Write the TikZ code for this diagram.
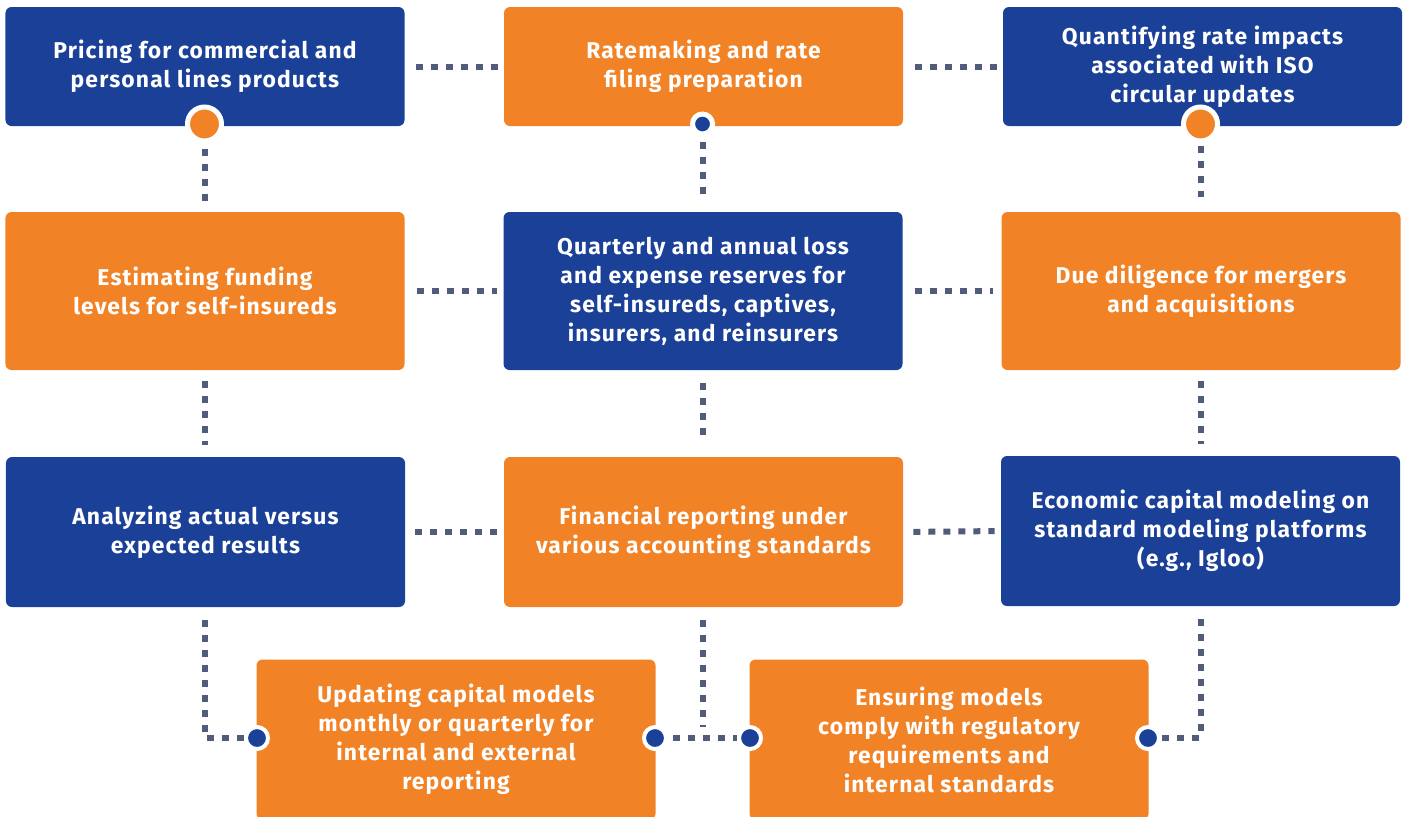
\documentclass[tikz,border=0pt]{standalone}
\usepackage{fontspec}
\setmainfont{Fira Sans}[LetterSpace=5]
\definecolor{bleu}{RGB}{27,64,151}
\definecolor{orangec}{RGB}{242,130,38}
\definecolor{ardoise}{RGB}{80,92,122}

\begin{document}
\begin{tikzpicture}[x=0.2mm,y=-0.2mm]

% définition des styles
\tikzstyle{boite}=[rounded corners=1.2mm,minimum width=79.8mm,text=white,align=center,inner sep=0,font=\bfseries\fontsize{13}{16.5}\selectfont]
\tikzstyle{boitebleue}=[boite,fill=bleu]
\tikzstyle{boiteorange}=[boite,fill=orangec]
\tikzstyle{lien}=[draw=ardoise,line width=1.2mm,dash pattern=on 1.4mm off 1.6mm]
\tikzstyle{grospoint}=[circle,fill=orangec,draw=white,line width=1mm,minimum size=6.8mm,inner sep=0]
\tikzstyle{petitpoint}=[circle,fill=bleu,draw=white,line width=1mm,minimum size=4mm,inner sep=0]
\tikzstyle{pointbas}=[circle,fill=bleu,draw=white,line width=0.8mm,minimum size=4.4mm,inner sep=0]

\useasboundingbox (0,0) rectangle (1405,816);

% les boîtes
\node[boitebleue,minimum height=23.8mm] (prix) at (205,66.5) {Pricing for commercial and\\personal lines products};
\node[boiteorange,minimum height=23.8mm] (tarif) at (703.5,66.5) {Ratemaking and rate\\filing preparation};
\node[boitebleue,minimum height=23.8mm] (iso) at (1202.5,66.5) {Quantifying rate impacts\\associated with ISO\\circular updates};

\node[boiteorange,minimum height=31.6mm] (fonds) at (205,291) {Estimating funding\\levels for self-insureds};
\node[boitebleue,minimum height=31.6mm] (reserves) at (703,291) {Quarterly and annual loss\\and expense reserves for\\self-insureds, captives,\\insurers, and reinsurers};
\node[boiteorange,minimum height=31.6mm] (fusion) at (1201,291) {Due diligence for mergers\\and acquisitions};

\node[boitebleue,minimum height=30mm] (analyse) at (205.5,532) {Analyzing actual versus\\expected results};
\node[boiteorange,minimum height=30mm] (rapport) at (703.5,532) {Financial reporting under\\various accounting standards};
\node[boitebleue,minimum height=30mm] (eco) at (1200.5,531) {Economic capital modeling on\\standard modeling platforms\\(e.g., Igloo)};

\node[boiteorange,minimum height=32mm] (maj) at (456,739.5) {Updating capital models\\monthly or quarterly for\\internal and external\\reporting};
\node[boiteorange,minimum height=32mm] (conf) at (949,739.5) {Ensuring models\\comply with regulatory\\requirements and\\internal standards};

% les points
\node[grospoint] (dprix) at (204.5,124) {};
\node[petitpoint] (dtarif) at (702.5,124) {};
\node[grospoint] (diso) at (1200.5,124) {};
\node[pointbas] (dmajg) at (257,738) {};
\node[pointbas] (dmajd) at (655,738) {};
\node[pointbas] (dconfg) at (750,738) {};
\node[pointbas] (dconfd) at (1148,738) {};
\coordinate (milieu) at (703,738);

% les liens
\draw[lien,shorten <=2.2mm,shorten >=1mm] (prix.east) -- (tarif.west);
\draw[lien,shorten <=2.4mm,shorten >=1mm] (tarif.east) -- (iso.west);
\draw[lien,shorten <=2.4mm,shorten >=1.2mm] (fonds.east) -- (reserves.west);
\draw[lien,shorten <=2.4mm,shorten >=1.6mm] (reserves.east) -- (fusion.west);
\draw[lien,shorten <=2mm,shorten >=1.4mm] (analyse.east) -- (rapport.west);
\draw[lien,shorten <=2mm,shorten >=1.2mm] (rapport.east) -- (eco.west);

\draw[lien,shorten <=1mm,shorten >=2.2mm] (dprix) -- (fonds.north -| dprix);
\draw[lien,shorten <=1mm,shorten >=2.8mm] (dtarif) -- (reserves.north -| dtarif);
\draw[lien,shorten <=0.4mm,shorten >=3mm] (diso) -- (fusion.north -| diso);

\draw[lien,shorten <=2.2mm,shorten >=2.4mm] (fonds.south -| dprix) -- (analyse.north -| dprix);
\draw[lien,shorten <=2.6mm,shorten >=4.2mm] (reserves.south -| dtarif) -- (rapport.north -| dtarif);
\draw[lien,shorten <=2.2mm,shorten >=2.4mm] (fusion.south -| diso) -- (eco.north -| diso);

\draw[lien,shorten <=2.6mm] (analyse.south -| dprix) |- (dmajg);
\draw[lien,shorten <=2.6mm,shorten >=2.2mm] (rapport.south -| milieu) -- (milieu);
\draw[lien,shorten <=1mm] (dmajd) -- (dconfg);
\draw[lien,shorten <=2.6mm] (eco.south -| diso) |- (dconfd);

\end{tikzpicture}
\end{document}
